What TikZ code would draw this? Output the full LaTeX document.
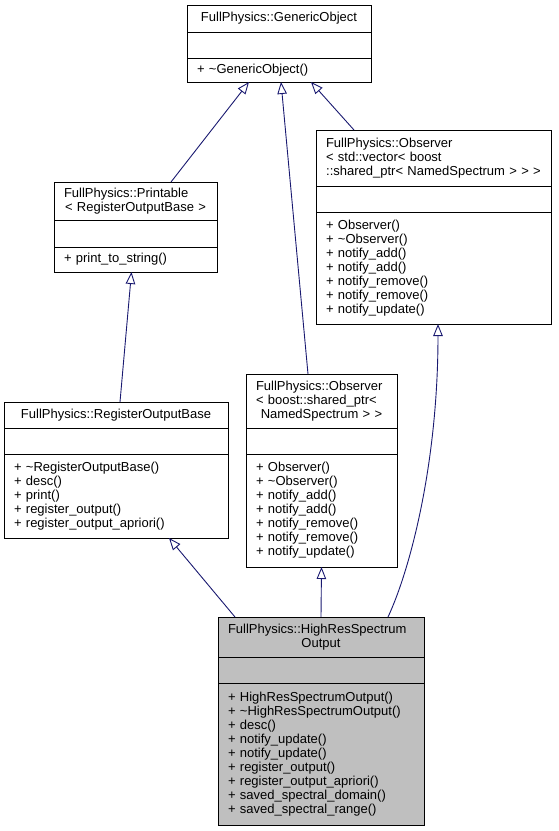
\documentclass[tikz,border=0pt]{standalone}
\usepackage{fontspec}
\setmainfont{Liberation Sans}
\usetikzlibrary{positioning,arrows.meta}
\definecolor{edgeblue}{HTML}{191970}
\definecolor{classgray}{HTML}{BFBFBF}
\newcommand{\umlfont}{\fontsize{13}{14}\selectfont}
\newcommand{\lastline}[1]{\makebox[\linewidth]{#1}}

\begin{document}
\begin{tikzpicture}[x=1pt,y=-1pt,node distance=0pt]
    \tikzstyle{part}=[draw=black,line width=0.9pt,outer sep=0pt,inner xsep=10pt,inner ysep=0pt,align=left,font=\umlfont]
    \tikzstyle{title part}=[part,anchor=north west]
    \tikzstyle{main part}=[fill=classgray]
    \tikzstyle{inherit}=[draw=edgeblue,line width=0.9pt,-{Triangle[open,length=12pt,width=9.5pt]}]

    \useasboundingbox (0,0) rectangle (559,831);

    % FullPhysics::GenericObject
    \node[title part,text width=164pt,minimum height=27pt,align=center] (GO-t) at (187,5) {FullPhysics::GenericObject};
    \node[part,text width=164pt,minimum height=26pt,below=of GO-t] (GO-a) {};
    \node[part,text width=164pt,minimum height=24pt,below=of GO-a] (GO-m) {+ \textasciitilde GenericObject()};

    % FullPhysics::Observer< std::vector< ... > >
    \node[title part,text width=215pt,minimum height=56pt] (OV-t) at (316,130)
        {FullPhysics::Observer\\< std::vector< boost\\\lastline{::shared\_ptr< NamedSpectrum > > >}};
    \node[part,text width=215pt,minimum height=26pt,below=of OV-t] (OV-a) {};
    \node[part,text width=215pt,minimum height=112pt,below=of OV-a] (OV-m)
        {+ Observer()\\+ \textasciitilde Observer()\\+ notify\_add()\\+ notify\_add()\\+ notify\_remove()\\+ notify\_remove()\\+ notify\_update()};

    % FullPhysics::Printable< RegisterOutputBase >
    \node[title part,text width=143pt,minimum height=38pt] (PR-t) at (54,182)
        {FullPhysics::Printable\\\lastline{< RegisterOutputBase >}};
    \node[part,text width=143pt,minimum height=27pt,below=of PR-t] (PR-a) {};
    \node[part,text width=143pt,minimum height=25pt,below=of PR-a] (PR-m) {+ print\_to\_string()};

    % FullPhysics::RegisterOutputBase
    \node[title part,text width=204pt,minimum height=26pt,align=center] (ROB-t) at (4,402) {FullPhysics::RegisterOutputBase};
    \node[part,text width=204pt,minimum height=26pt,below=of ROB-t] (ROB-a) {};
    \node[part,text width=204pt,minimum height=84pt,below=of ROB-a] (ROB-m)
        {+ \textasciitilde RegisterOutputBase()\\+ desc()\\+ print()\\+ register\_output()\\+ register\_output\_apriori()};

    % FullPhysics::Observer< boost::shared_ptr< ... > >
    \node[title part,text width=131pt,minimum height=54pt] (OB-t) at (246,374)
        {FullPhysics::Observer\\< boost::shared\_ptr<\\\lastline{NamedSpectrum > >}};
    \node[part,text width=131pt,minimum height=26pt,below=of OB-t] (OB-a) {};
    \node[part,text width=131pt,minimum height=113pt,below=of OB-a] (OB-m)
        {+ Observer()\\+ \textasciitilde Observer()\\+ notify\_add()\\+ notify\_add()\\+ notify\_remove()\\+ notify\_remove()\\+ notify\_update()};

    % FullPhysics::HighResSpectrumOutput
    \node[title part,main part,text width=186pt,minimum height=40pt] (HR-t) at (218,617)
        {FullPhysics::HighResSpectrum\\\lastline{Output}};
    \node[part,main part,text width=186pt,minimum height=26pt,below=of HR-t] (HR-a) {};
    \node[part,main part,text width=186pt,minimum height=142pt,below=of HR-a] (HR-m)
        {+ HighResSpectrumOutput()\\+ \textasciitilde HighResSpectrumOutput()\\+ desc()\\+ notify\_update()\\+ notify\_update()\\+ register\_output()\\+ register\_output\_apriori()\\+ saved\_spectral\_domain()\\+ saved\_spectral\_range()};

    % Connect every derived class with its base classes
    \foreach \src/\sx/\dst/\dx in {PR/35.5/GO/-30, OB/-13.5/GO/2, OV/-79.5/GO/32,
                                   ROB/4/PR/-4, HR/-86/ROB/53, HR/0/OB/0}
        \draw[inherit] ([xshift=\sx pt]\src-t.north) -- ([xshift=\dx pt]\dst-m.south);

    % The one curved inheritance line
    \draw[inherit] ([xshift=67pt]HR-t.north) .. controls +(22,-47) and +(0,140) .. ([xshift=4.5pt]OV-m.south);
\end{tikzpicture}
\end{document}
